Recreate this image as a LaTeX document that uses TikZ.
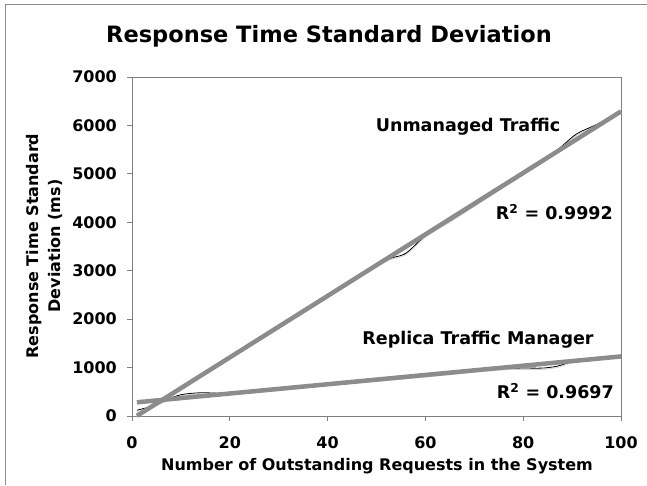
\documentclass[tikz,border=0pt]{standalone}
\usepackage{fontspec}
\setmainfont{DejaVu Sans}
\begin{document}
\begin{tikzpicture}[x=1pt,y=-1pt,
  frameline/.style={draw=black!45,line width=0.8pt},
  axisline/.style={draw=black!50,line width=0.8pt},
  ticklbl/.style={font=\bfseries\fontsize{16}{18}\selectfont,inner sep=0pt},
  axislbl/.style={font=\bfseries\fontsize{16}{22}\selectfont,inner sep=0pt,align=center},
  serieslbl/.style={font=\bfseries\fontsize{17.5}{20}\selectfont,inner sep=0pt},
  datablack/.style={draw=black,line width=0.8pt},
  datalight/.style={draw=black!18,line width=0.8pt},
  trend/.style={draw=black!45,line width=4.5pt}]
\useasboundingbox (0,0) rectangle (647,485);
% outer chart frame (top and left visible)
\coordinate (fa) at (647,4.5);
\coordinate (fb) at (5,4.5);
\coordinate (fc) at (5,485);
\draw[frameline] (fa) -- (fb) -- (fc);
% title
\node[font=\bfseries\fontsize{22.5}{26}\selectfont,inner sep=0pt,anchor=base] (title) at (329,42.3) {Response Time Standard Deviation};
% plot box
\coordinate (pbl) at (132,416);
\coordinate (ptr) at (621,77);
\draw[axisline] (pbl) rectangle (ptr);
% y ticks and labels
\foreach \v [count=\i from 0] in {0,1000,2000,3000,4000,5000,6000,7000}{
  \coordinate (yt\i) at (132,416-\i*48.43);
  \coordinate (ytl\i) at (127,416-\i*48.43);
  \draw[axisline] (yt\i) -- (ytl\i);
  \node[ticklbl,anchor=east] (ylab\i) at (117,416-\i*48.43) {\v};
}
% x ticks and labels
\foreach \v [count=\i from 0] in {0,20,40,60,80,100}{
  \coordinate (xt\i) at (132+\i*97.8,416);
  \coordinate (xtl\i) at (132+\i*97.8,421);
  \draw[axisline] (xt\i) -- (xtl\i);
  \node[ticklbl] (xlab\i) at (132+\i*97.8,443) {\v};
}
% axis titles
\node[axislbl] (xtitle) at (377,466) {Number of Outstanding Requests in the System};
\node[axislbl,rotate=90] (ytitle) at (44,246) {Response Time Standard\\Deviation (ms)};
% data
\begin{scope}[shift={(132,416)},x=4.89pt,y=0.04843pt]
  \begin{scope}[yshift=-1.3pt]
  \draw[datalight] plot[smooth] coordinates {(1,20) (5,260) (10,560) (15,900) (20,1230) (25,1540) (30,1840) (35,2150) (40,2460) (45,2800) (50,3120) (53,3260) (56,3360) (60,3720) (65,4030) (70,4350) (75,4680) (80,5000) (85,5330) (88,5580) (91,5830) (95,6020) (100,6290)};
  \draw[datalight] plot[smooth] coordinates {(1,120) (4,200) (7,330) (10,440) (14,480) (18,470) (22,480) (30,550) (40,650) (50,740) (60,830) (70,930) (76,980) (80,990) (84,990) (87,1030) (90,1120) (95,1180) (100,1230)};
  \end{scope}
  \draw[datablack] plot[smooth] coordinates {(1,20) (5,260) (10,560) (15,900) (20,1230) (25,1540) (30,1840) (35,2150) (40,2460) (45,2800) (50,3120) (53,3260) (56,3360) (60,3720) (65,4030) (70,4350) (75,4680) (80,5000) (85,5330) (88,5580) (91,5830) (95,6020) (100,6290)};
  \draw[datablack] plot[smooth] coordinates {(1,120) (4,200) (7,330) (10,440) (14,480) (18,470) (22,480) (30,550) (40,650) (50,740) (60,830) (70,930) (76,980) (80,990) (84,990) (87,1030) (90,1120) (95,1180) (100,1230)};
  % trend lines
  \coordinate (ua) at (1,3.5);
  \coordinate (ub) at (100,6290);
  \coordinate (ra) at (1,283);
  \coordinate (rb) at (100,1230);
  \draw[trend] (ua) -- (ub);
  \draw[trend] (ra) -- (rb);
\end{scope}
% series labels
\node[serieslbl] (ulab) at (468,127) {Unmanaged Traffic};
\node[serieslbl] (rlab) at (478,340) {Replica Traffic Manager};
\node[serieslbl,anchor=east] (r2u) at (613,212) {R\textsuperscript{2} = 0.9992};
\node[serieslbl,anchor=east] (r2r) at (614,391) {R\textsuperscript{2} = 0.9697};
\end{tikzpicture}
\end{document}
